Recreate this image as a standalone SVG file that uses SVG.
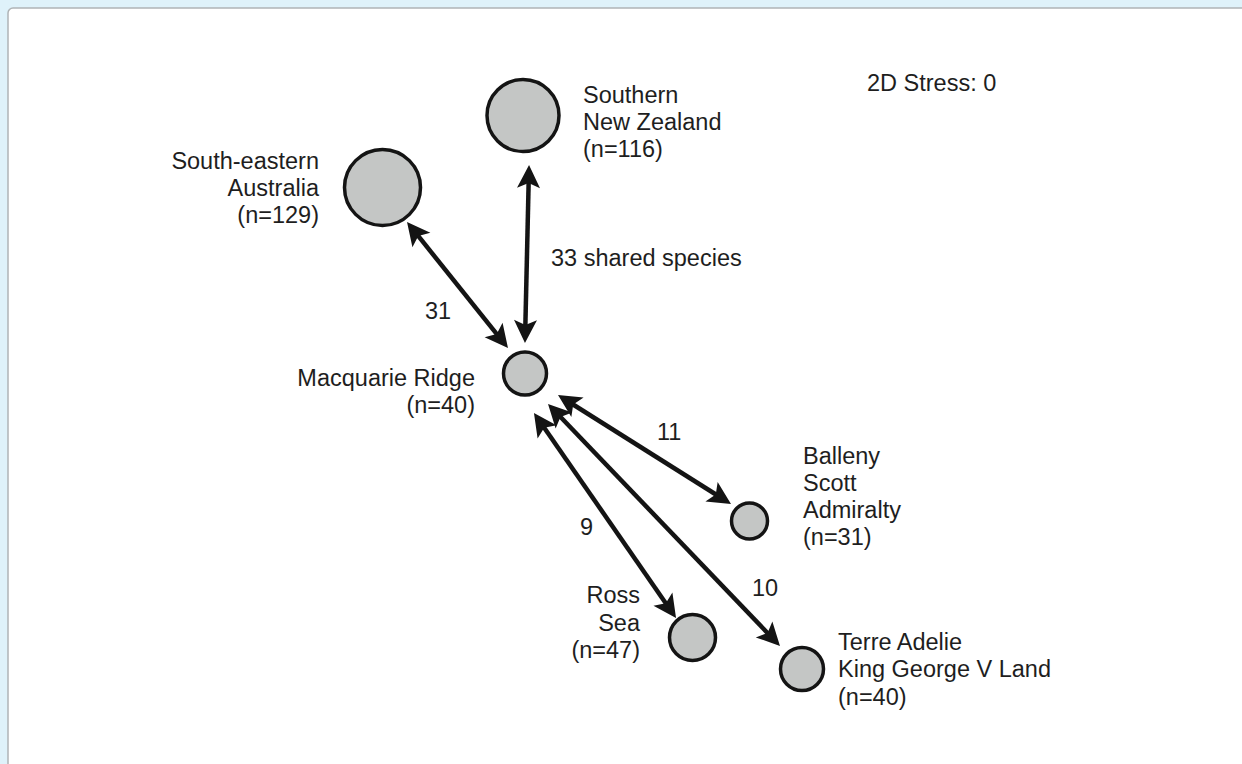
<svg xmlns="http://www.w3.org/2000/svg" width="1242" height="764" viewBox="0 0 1242 764">
<style>
.node{fill:#c4c6c5;stroke:#141414;stroke-width:3.5}
.lbl{font-family:"Liberation Sans",Arial,sans-serif;font-size:23.5px;fill:#1e1e1e}
.r{text-anchor:end}
.edge{stroke:#141414;stroke-width:4.5;fill:none;marker-start:url(#ah);marker-end:url(#ah)}
</style>
<defs>
<marker id="ah" markerUnits="userSpaceOnUse" viewBox="-10 -13 27 26" refX="0" refY="0" markerWidth="27" markerHeight="26" orient="auto-start-reverse">
<path d="M15,0 L-8,-11.5 L-3,0 L-8,11.5 Z" fill="#141414"/>
</marker>
</defs>
<rect x="0" y="0" width="1242" height="764" fill="#dff2fa"/>
<rect x="8" y="8" width="1250" height="770" rx="5" fill="#ffffff" stroke="#b0b4b6" stroke-width="1.5"/>
<g id="connectors">
<line class="edge" x1="528.7" y1="180" x2="525.3" y2="328"/>
<line class="edge" x1="416.4" y1="233.7" x2="498.6" y2="336.3"/>
<line class="edge" x1="570.7" y1="403" x2="718.3" y2="496"/>
<line class="edge" x1="558.4" y1="414.8" x2="769.6" y2="635.2"/>
<line class="edge" x1="542.5" y1="425.3" x2="667.5" y2="605.7"/>
<text class="lbl" x="551" y="266">33 shared species</text>
<text class="lbl" x="425" y="319">31</text>
<text class="lbl" x="657" y="440">11</text>
<text class="lbl" x="580" y="535">9</text>
<text class="lbl" x="752" y="596">10</text>
</g>
<g id="se-australia">
<circle class="node" cx="382.5" cy="187.5" r="38"/>
<text class="lbl r" x="319" y="169">South-eastern</text>
<text class="lbl r" x="319" y="196">Australia</text>
<text class="lbl r" x="319" y="223">(n=129)</text>
</g>
<g id="southern-nz">
<circle class="node" cx="523" cy="115.5" r="36"/>
<text class="lbl" x="583" y="103">Southern</text>
<text class="lbl" x="583" y="130">New Zealand</text>
<text class="lbl" x="583" y="157">(n=116)</text>
</g>
<g id="macquarie">
<circle class="node" cx="525" cy="373.5" r="21.5"/>
<text class="lbl r" x="475" y="386">Macquarie Ridge</text>
<text class="lbl r" x="475" y="413">(n=40)</text>
</g>
<g id="balleny">
<circle class="node" cx="749.5" cy="521" r="18"/>
<text class="lbl" x="803" y="464">Balleny</text>
<text class="lbl" x="803" y="491">Scott</text>
<text class="lbl" x="803" y="518">Admiralty</text>
<text class="lbl" x="803" y="545">(n=31)</text>
</g>
<g id="ross-sea">
<circle class="node" cx="692.5" cy="637.5" r="23"/>
<text class="lbl r" x="640" y="603">Ross</text>
<text class="lbl r" x="640" y="631">Sea</text>
<text class="lbl r" x="640" y="658">(n=47)</text>
</g>
<g id="terre-adelie">
<circle class="node" cx="802" cy="669" r="21.5"/>
<text class="lbl" x="838" y="650">Terre Adelie</text>
<text class="lbl" x="838" y="677">King George V Land</text>
<text class="lbl" x="838" y="705">(n=40)</text>
</g>
<g id="stress">
<text class="lbl" x="867" y="91">2D Stress: 0</text>
</g>
</svg>
